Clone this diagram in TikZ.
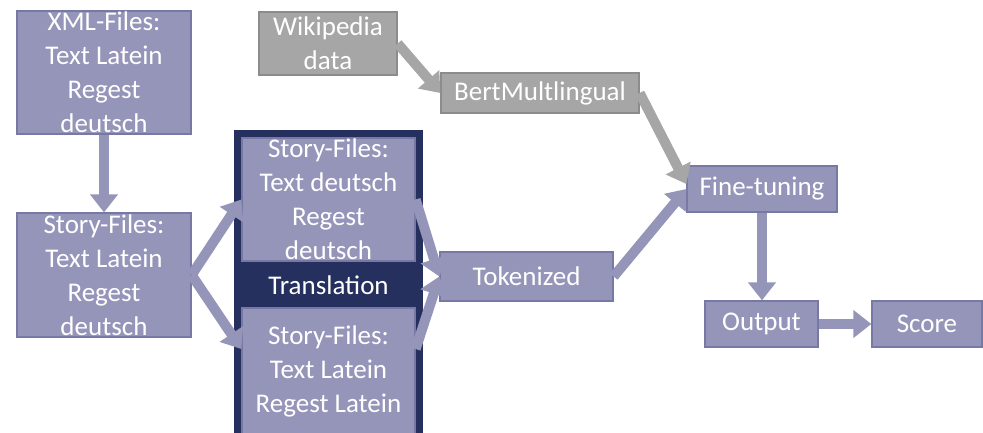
\documentclass[tikz,border=0pt]{standalone}
\usepackage{fontspec}
\setmainfont{Carlito}
\usetikzlibrary{arrows.meta}
\definecolor{boxfill}{HTML}{9595B9}
\definecolor{boxline}{HTML}{7878A4}
\definecolor{navy}{HTML}{26305F}
\definecolor{greyfill}{HTML}{A6A6A6}
\definecolor{greyline}{HTML}{8C8C8C}

\begin{document}
\begin{tikzpicture}[x=1pt, y=-1pt,
  every node/.style={font=\fontsize{27}{34}\selectfont, text=white, align=center, inner sep=0pt},
  box/.style={draw=boxline, fill=boxfill, line width=1.3pt},
  greybox/.style={draw=greyline, fill=greyfill, line width=1.3pt},
  arr/.style={draw=boxfill, line width=10pt, -{Triangle[width=27pt,length=18pt]}},
  greyarr/.style={arr, draw=greyfill}]
  \useasboundingbox (0,0) rectangle (983,432);
  \clip (0,0) rectangle (983,432);
  \node[fill=navy, minimum width=189pt, minimum height=320pt] (transbox) at (328.5,290) {};
  \node[box, minimum width=174pt, minimum height=123pt] (xml) at (104,72.5) {XML-Files:\\Text Latein\\Regest\\deutsch};
  \node[box, minimum width=174pt, minimum height=124pt] (storyL) at (104,275) {Story-Files:\\Text Latein\\Regest\\deutsch};
  \node[greybox, minimum width=138pt, minimum height=63pt] (wiki) at (328,43.5) {Wikipedia\\data};
  \node[greybox, minimum width=198pt, minimum height=40pt] (bert) at (540,93) {BertMultlingual};
  \node[box, minimum width=173pt, minimum height=123pt] (storyDe) at (328.5,199.5) {Story-Files:\\Text deutsch\\Regest\\deutsch};
  \node (translation) at (328.5,285) {Translation};
  \node[box, minimum width=173pt, minimum height=126pt] (storyLa) at (328.5,371) {Story-Files:\\Text Latein\\Regest Latein};
  \node[box, minimum width=173pt, minimum height=49pt] (token) at (526.5,276.5) {Tokenized};
  \node[box, minimum width=150pt, minimum height=46pt] (fine) at (762,189) {Fine-tuning};
  \node[box, minimum width=113pt, minimum height=46pt] (output) at (761.5,324) {Output};
  \node[box, minimum width=110pt, minimum height=46pt] (score) at (927,324) {Score};

  \draw[arr] (xml) -- (storyL);
  \draw[arr] (storyL.east) -- (storyDe.west);
  \draw[arr] (storyL.east) -- ([yshift=22pt]storyLa.west);
  \draw[arr] (storyDe.east) -- (token.west);
  \draw[arr] ([yshift=22pt]storyLa.east) -- (token.west);
  \draw[greyarr] (wiki.east) -- (bert.west);
  \draw[greyarr] (bert.east) -- ([yshift=5pt]fine.west);
  \draw[arr] (token.east) -- (fine.west);
  \draw[arr] (fine.south) -- (fine.south |- output.north);
  \draw[arr] (output) -- (score);
\end{tikzpicture}
\end{document}
